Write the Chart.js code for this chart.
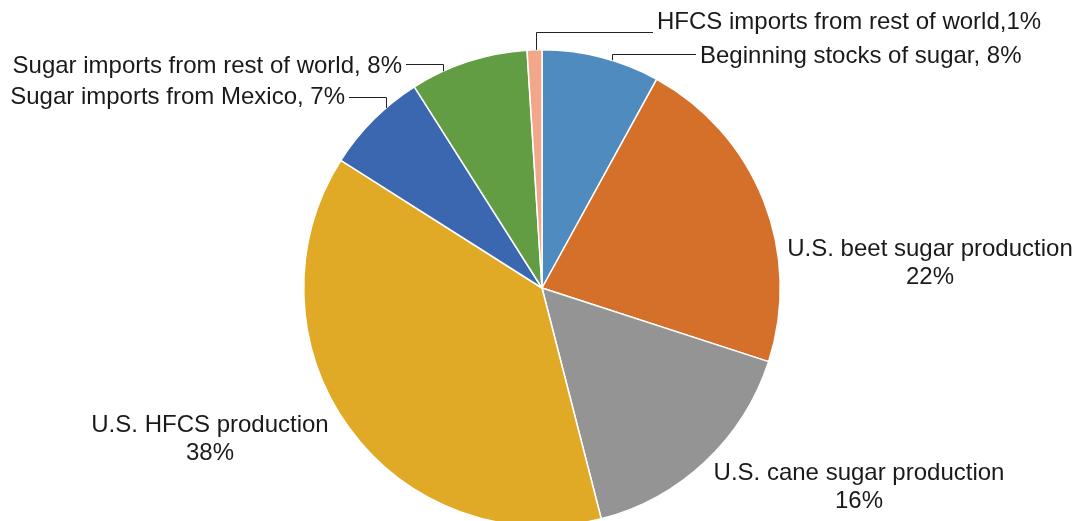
<!DOCTYPE html>
<html>
<head>
<meta charset="utf-8">
<script src="https://cdn.jsdelivr.net/npm/chart.js@4"></script>
<style>
  html, body { margin: 0; padding: 0; background: #fff; overflow: hidden; }
  #wrap { width: 1077px; height: 540px; }
</style>
</head>
<body>
<div id="wrap"><canvas id="sugarPie"></canvas></div>
<script>
// US sugar and HFCS supply, share of total
var categories = [
    'Beginning stocks of sugar',
    'U.S. beet sugar production',
    'U.S. cane sugar production',
    'U.S. HFCS production',
    'Sugar imports from Mexico',
    'Sugar imports from rest of world',
    'HFCS imports from rest of world'
];
var shares = [8, 22, 16, 38, 7, 8, 1];
var sliceColors = ['#4f8bbf', '#d4702a', '#949494', '#e0a926', '#3b66b0', '#629c43', '#f2a68a'];

// label placement: text anchor, and for the small slices the leader line
var labelSpots = [
    { x: 700, y: 56, align: 'left', inline: true, lineX: 612, lineY: 54, lineTo: 696 },
    { x: 930, y: 249, align: 'center' },
    { x: 859, y: 473, align: 'center' },
    { x: 210, y: 425, align: 'center' },
    { x: 345, y: 97, align: 'right', inline: true, lineX: 386, lineY: 97, lineTo: 349 },
    { x: 402, y: 66, align: 'right', inline: true, lineX: 443, lineY: 64, lineTo: 406 },
    { x: 657, y: 22, align: 'left', inline: true, lineX: 536, lineY: 32, lineTo: 653, sep: ',' }
];

var pieLabels = {
    id: 'pieLabels',
    afterDatasetsDraw: function(chart) {
        var ctx = chart.ctx;
        var arcs = chart.getDatasetMeta(0).data;
        ctx.save();
        ctx.font = '24px "Liberation Sans", Arial, sans-serif';
        ctx.fillStyle = '#1a1a1a';
        ctx.strokeStyle = '#222';
        ctx.lineWidth = 1;
        ctx.textBaseline = 'middle';
        arcs.forEach(function(arc, i) {
            var spot = labelSpots[i];
            var val = shares[i] + '%';
            ctx.textAlign = spot.align;
            if (spot.inline) {
                var sep = spot.sep || ', ';
                ctx.fillText(categories[i] + sep + val, spot.x, spot.y);
                var p = arc.getProps(['x', 'y', 'outerRadius'], true);
                var dx = spot.lineX - p.x;
                var edgeY = p.y - Math.sqrt(p.outerRadius * p.outerRadius - dx * dx);
                ctx.beginPath();
                ctx.moveTo(spot.lineX + 0.5, edgeY);
                ctx.lineTo(spot.lineX + 0.5, spot.lineY + 0.5);
                ctx.lineTo(spot.lineTo, spot.lineY + 0.5);
                ctx.stroke();
            } else {
                ctx.fillText(categories[i], spot.x, spot.y);
                ctx.textAlign = 'center';
                var w = ctx.measureText(categories[i]).width;
                var cx = spot.align === 'center' ? spot.x : spot.x + w / 2;
                ctx.fillText(val, cx, spot.y + 28);
            }
        });
        ctx.restore();
    }
};

var ctx = document.getElementById('sugarPie').getContext('2d');
var sugarPie = new Chart(ctx, {
    type: 'pie',
    data: {
        labels: categories,
        datasets: [{
            data: shares,
            backgroundColor: sliceColors,
            borderColor: '#ffffff',
            borderWidth: 1.5
        }]
    },
    options: {
        responsive: true,
        maintainAspectRatio: false,
        animation: false,
        layout: { padding: { top: 49, bottom: 13, left: 303, right: 296 } },
        plugins: {
            legend: { display: false },
            tooltip: { enabled: false }
        }
    },
    plugins: [pieLabels]
});
</script>
</body>
</html>
